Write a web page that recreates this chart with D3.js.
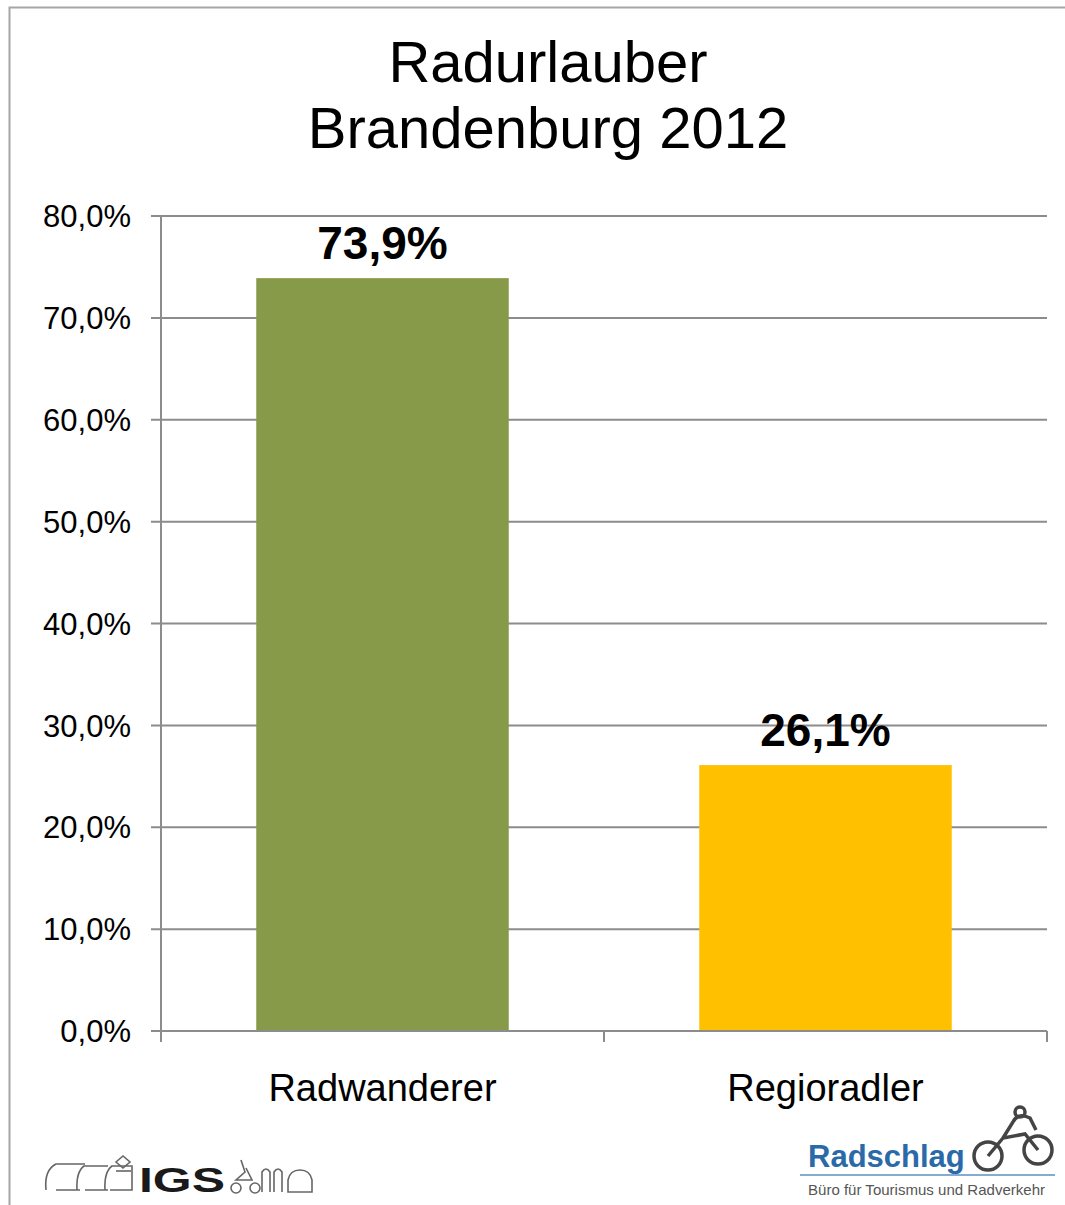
<!DOCTYPE html>
<html>
<head>
<meta charset="utf-8">
<script src="https://cdn.jsdelivr.net/npm/d3@7"></script>
<style>
  body { margin: 0; background: #fff; }
  svg { display: block; font-family: "Liberation Sans", Arial, sans-serif; }
</style>
</head>
<body>
<svg width="1065" height="1205"></svg>
<script>
const categories = ["Radwanderer", "Regioradler"];
const values = [73.9, 26.1];
const valueLabels = ["73,9%", "26,1%"];
const barColors = ["#869a4a", "#ffc000"];
const yTicks = [0, 10, 20, 30, 40, 50, 60, 70, 80];
const titleLines = ["Radurlauber", "Brandenburg 2012"];

const svg = d3.select("svg");

// outer frame
svg.append("path")
    .attr("d", "M9.5,1205 V7.5 H1065")
    .attr("fill", "none")
    .attr("stroke", "#a6a6a6")
    .attr("stroke-width", 2);

// title
svg.append("g").selectAll("text").data(titleLines)
  .enter().append("text")
    .attr("x", 548)
    .attr("y", (d, i) => 82 + i * 66)
    .attr("text-anchor", "middle")
    .attr("font-size", 58)
    .attr("fill", "#000")
    .text(d => d);

const plotLeft = 161, plotRight = 1047, plotTop = 216, plotBottom = 1031;

const x = d3.scaleBand().domain(categories).range([plotLeft, plotRight]).paddingInner(0.43).paddingOuter(0.215);
const y = d3.scaleLinear().domain([0, 80]).range([plotBottom, plotTop]);

// gridlines
svg.append("g").selectAll("line").data(yTicks)
  .enter().append("line")
    .attr("x1", plotLeft - 10)
    .attr("x2", plotRight)
    .attr("y1", d => y(d))
    .attr("y2", d => y(d))
    .attr("stroke", "#8c8c8c")
    .attr("stroke-width", 2);

// y axis labels
svg.append("g").selectAll("text").data(yTicks)
  .enter().append("text")
    .attr("x", 131)
    .attr("y", d => y(d))
    .attr("dy", "0.36em")
    .attr("text-anchor", "end")
    .attr("font-size", 31)
    .text(d => d3.format(".1f")(d).replace(".", ",") + "%");

// bars
svg.append("g").selectAll("rect").data(values)
  .enter().append("rect")
    .attr("x", (d, i) => x(categories[i]))
    .attr("width", x.bandwidth())
    .attr("y", d => y(d))
    .attr("height", d => y(0) - y(d))
    .attr("fill", (d, i) => barColors[i]);

// y axis line
svg.append("line")
    .attr("x1", plotLeft).attr("x2", plotLeft)
    .attr("y1", plotTop).attr("y2", plotBottom + 10)
    .attr("stroke", "#8c8c8c").attr("stroke-width", 2);

// x axis line and category ticks
svg.append("line")
    .attr("x1", plotLeft).attr("x2", plotRight)
    .attr("y1", plotBottom).attr("y2", plotBottom)
    .attr("stroke", "#8c8c8c").attr("stroke-width", 2);

svg.append("g").selectAll("line").data(d3.range(categories.length + 1))
  .enter().append("line")
    .attr("x1", d => plotLeft + d * (plotRight - plotLeft) / categories.length)
    .attr("x2", d => plotLeft + d * (plotRight - plotLeft) / categories.length)
    .attr("y1", plotBottom)
    .attr("y2", plotBottom + 11)
    .attr("stroke", "#8c8c8c").attr("stroke-width", 2);

// value labels
svg.append("g").selectAll("text").data(values)
  .enter().append("text")
    .attr("x", (d, i) => x(categories[i]) + x.bandwidth() / 2)
    .attr("y", d => y(d) - 19)
    .attr("text-anchor", "middle")
    .attr("font-size", 46)
    .attr("font-weight", "bold")
    .text((d, i) => valueLabels[i]);

// category labels
svg.append("g").selectAll("text").data(categories)
  .enter().append("text")
    .attr("x", d => x(d) + x.bandwidth() / 2)
    .attr("y", 1101)
    .attr("text-anchor", "middle")
    .attr("font-size", 38)
    .text(d => d);

// IGS logo (rough)
const igs = svg.append("g").attr("fill", "none").attr("stroke", "#666").attr("stroke-width", 1.6);
igs.append("path").attr("d", "M46,1190 Q44,1170 56,1164 H85 M56,1190 H80");
igs.append("path").attr("d", "M77,1190 Q76,1172 84,1166 H108 M85,1190 H108");
igs.append("path").attr("d", "M105,1190 Q104,1172 112,1166 H132 V1190 H110");
igs.append("path").attr("d", "M116,1162 L123,1156 L130,1162 L123,1168 Z");
igs.append("path").attr("d", "M116,1171 H131");
svg.append("text")
    .attr("x", 139).attr("y", 1192)
    .attr("font-size", 35).attr("font-weight", "bold").attr("fill", "#1a1a1a")
    .attr("textLength", 86).attr("lengthAdjust", "spacingAndGlyphs")
    .text("IGS");
igs.append("circle").attr("cx", 236).attr("cy", 1188).attr("r", 5);
igs.append("circle").attr("cx", 255).attr("cy", 1188).attr("r", 5);
igs.append("path").attr("d", "M241,1160 L245,1172 L236,1180 L252,1180 L246,1168");
igs.append("path").attr("d", "M262,1192 V1172 Q266,1166 270,1172 V1192 M274,1192 V1172 Q278,1166 282,1172 V1192");
igs.append("path").attr("d", "M288,1192 V1180 Q290,1170 300,1170 Q310,1170 312,1180 V1192 Z");

// Radschlag logo (rough)
svg.append("text")
    .attr("x", 808).attr("y", 1167)
    .attr("font-size", 31).attr("font-weight", "bold").attr("fill", "#2a6aa8")
    .text("Radschlag");
svg.append("line")
    .attr("x1", 800).attr("x2", 1055)
    .attr("y1", 1175).attr("y2", 1175)
    .attr("stroke", "#5b8fc4").attr("stroke-width", 1.5);
svg.append("text")
    .attr("x", 808).attr("y", 1195)
    .attr("font-size", 15).attr("fill", "#555")
    .attr("textLength", 237).attr("lengthAdjust", "spacingAndGlyphs")
    .text("Büro für Tourismus und Radverkehr");
const bike = svg.append("g").attr("fill", "none").attr("stroke", "#444").attr("stroke-width", 3.5);
bike.append("circle").attr("cx", 988).attr("cy", 1156).attr("r", 14);
bike.append("circle").attr("cx", 1038).attr("cy", 1150).attr("r", 14);
bike.append("path").attr("d", "M988,1156 L1003,1138 L1025,1134 L1038,1150 M1003,1138 L1013,1122 Q1018,1112 1030,1118 L1036,1130");
bike.append("circle").attr("cx", 1020).attr("cy", 1112).attr("r", 5);
</script>
</body>
</html>
